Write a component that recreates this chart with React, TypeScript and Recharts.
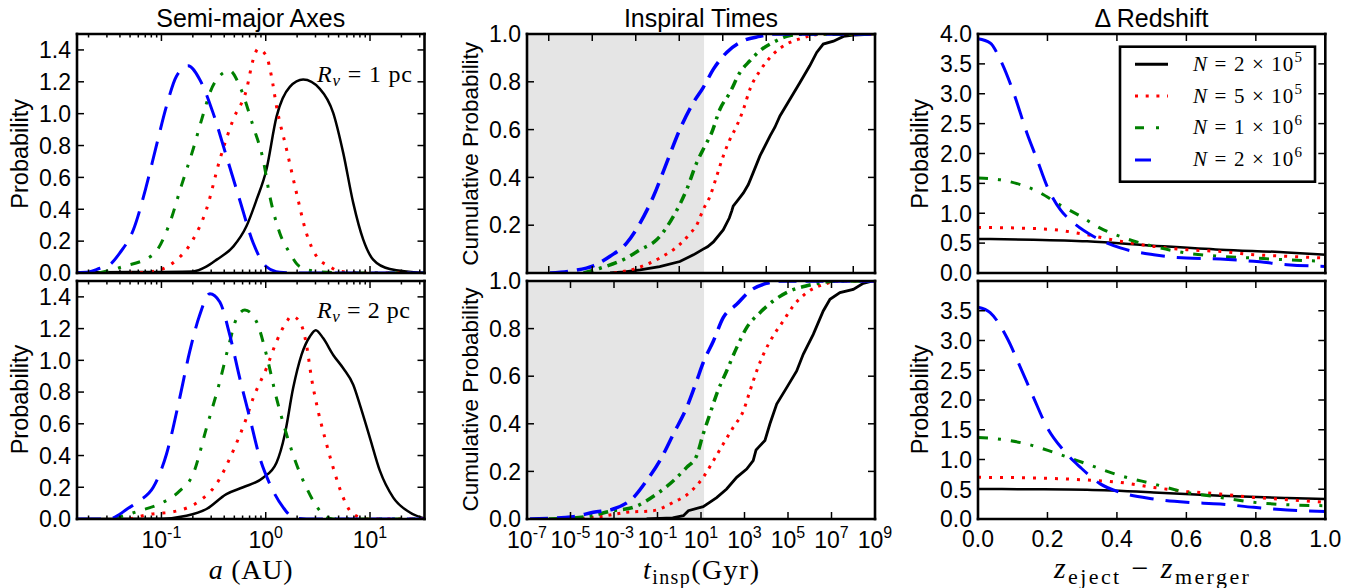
import React from 'react';
import { LineChart, Line, XAxis, YAxis, ReferenceArea } from 'recharts';

const SANS = '"Liberation Sans", Arial, Helvetica, sans-serif';
const SERIF = '"Liberation Serif", "Times New Roman", serif';

type Pt = [number, number];

// ---------- Semi-major axes (a in AU, probability) ----------
const semiXMajor = [0.1, 1, 10];
const semiXMinor = [0.02, 0.03, 0.04, 0.05, 0.06, 0.07, 0.08, 0.09, 0.2, 0.3, 0.4, 0.5, 0.6, 0.7, 0.8, 0.9, 2, 3, 4, 5, 6, 7, 8, 9, 20, 30];
const semiYTicks = [0, 0.2, 0.4, 0.6, 0.8, 1.0, 1.2, 1.4];

const semiTopBlack: Pt[] = [[0.0155, 0.005], [0.05, 0.006], [0.2, 0.01], [0.269, 0.04], [0.339, 0.084], [0.49, 0.167], [0.653, 0.293], [0.817, 0.46], [1.016, 0.65], [1.268, 0.98], [1.702, 1.168], [2.286, 1.214], [3.304, 1.156], [4.436, 1.005], [5.534, 0.754], [6.902, 0.44], [8.61, 0.209], [10.72, 0.084], [15.49, 0.025], [33.3, 0.0]];
const semiTopRed: Pt[] = [[0.049, 0.0], [0.0832, 0.01], [0.1288, 0.063], [0.2009, 0.21], [0.2704, 0.4], [0.3631, 0.712], [0.4875, 0.963], [0.6531, 1.15], [0.7586, 1.34], [0.8453, 1.407], [1.016, 1.36], [1.135, 1.235], [1.268, 1.047], [1.585, 0.775], [1.972, 0.503], [2.455, 0.25], [3.069, 0.105], [4.121, 0.04], [5.129, 0.01], [10, 0.0], [33.3, 0.0]];
const semiTopGreen: Pt[] = [[0.025, 0.0], [0.0427, 0.04], [0.0832, 0.115], [0.1202, 0.314], [0.1549, 0.545], [0.2009, 0.775], [0.2512, 0.995], [0.2911, 1.13], [0.3802, 1.25], [0.4519, 1.27], [0.5636, 1.172], [0.7586, 0.92], [0.9441, 0.712], [1.096, 0.48], [1.365, 0.25], [1.698, 0.126], [2.123, 0.04], [3.069, 0.01], [6.31, 0.0], [33.3, 0.0]];
const semiTopBlue: Pt[] = [[0.0155, 0.002], [0.02, 0.006], [0.0257, 0.03], [0.0319, 0.052], [0.0398, 0.125], [0.0537, 0.27], [0.0716, 0.545], [0.0891, 0.795], [0.1117, 1.047], [0.1393, 1.235], [0.1799, 1.3], [0.2328, 1.215], [0.3126, 1.005], [0.4198, 0.733], [0.5623, 0.46], [0.7586, 0.188], [1.012, 0.04], [1.365, 0.005], [2.0, 0.0], [33.3, 0.0]];

const semiBotBlack: Pt[] = [[0.0155, 0.0], [0.1, 0.002], [0.1738, 0.02], [0.2704, 0.063], [0.4198, 0.157], [0.6067, 0.2], [0.9441, 0.26], [1.268, 0.355], [1.524, 0.533], [1.832, 0.825], [2.203, 1.034], [2.649, 1.15], [3.02, 1.19], [3.548, 1.14], [4.436, 1.034], [5.534, 0.95], [6.902, 0.846], [8.0, 0.72], [9.977, 0.512], [12.45, 0.303], [16.71, 0.135], [24.15, 0.041], [33.3, 0.003]];
const semiBotRed: Pt[] = [[0.05, 0.0], [0.0776, 0.03], [0.1288, 0.045], [0.2328, 0.115], [0.3365, 0.22], [0.4875, 0.43], [0.6531, 0.637], [0.7586, 0.762], [1.016, 0.95], [1.268, 1.118], [1.585, 1.243], [1.766, 1.279], [2.123, 1.243], [2.455, 1.1], [2.748, 0.888], [3.184, 0.679], [3.69, 0.512], [4.436, 0.323], [5.534, 0.135], [6.412, 0.052], [7.943, 0.01], [9.333, 0.0], [33.3, 0.0]];
const semiBotGreen: Pt[] = [[0.0347, 0.0], [0.0617, 0.052], [0.0955, 0.094], [0.1496, 0.177], [0.2009, 0.282], [0.2704, 0.574], [0.3631, 0.867], [0.4519, 1.118], [0.5248, 1.264], [0.631, 1.317], [0.8166, 1.243], [1.016, 1.034], [1.268, 0.762], [1.585, 0.533], [1.972, 0.345], [2.455, 0.198], [3.304, 0.052], [4.436, 0.0], [33.3, 0.0]];
const semiBotBlue: Pt[] = [[0.0155, 0.0], [0.0316, 0.0], [0.0398, 0.03], [0.0461, 0.06], [0.0617, 0.115], [0.0832, 0.198], [0.1117, 0.408], [0.1496, 0.762], [0.1866, 1.055], [0.2328, 1.285], [0.2911, 1.42], [0.3631, 1.368], [0.4519, 1.16], [0.5636, 0.888], [0.7031, 0.637], [0.877, 0.386], [1.096, 0.22], [1.469, 0.073], [1.832, 0.01], [2.455, 0.0], [33.3, 0.0]];

// ---------- Inspiral times (t in Gyr, cumulative probability) ----------
const inspTopXTicks = [1e-6, 1e-4, 1e-2, 1, 100, 1e4, 1e6, 1e8];
const inspBotXTicks = [1e-7, 1e-5, 1e-3, 0.1, 10, 1e3, 1e5, 1e7, 1e9];
const inspYTicks = [0, 0.2, 0.4, 0.6, 0.8, 1.0];
const hubbleTime = 13.8;

const inspTopBlack: Pt[] = [[6.6e-4, 0], [3e-3, 0.005], [0.0158, 0.013], [0.126, 0.027], [1.07, 0.048], [4.47, 0.076], [12.6, 0.1], [20, 0.11], [37.2, 0.13], [105, 0.18], [200, 0.23], [260, 0.26], [302, 0.28], [550, 0.31], [891, 0.335], [1500, 0.37], [2512, 0.42], [5129, 0.49], [14791, 0.573], [25000, 0.61], [42658, 0.657], [1.23e5, 0.727], [3.55e5, 0.797], [1e6, 0.867], [2.09e6, 0.923], [4.17e6, 0.958], [1.23e7, 0.97], [3.55e7, 0.99], [1e8, 0.995], [1e9, 1.0]];
const inspTopRed: Pt[] = [[1e-3, 0], [0.011, 0.02], [0.129, 0.063], [1.07, 0.12], [3.16, 0.165], [6.3, 0.2], [12.6, 0.265], [25.7, 0.32], [52.5, 0.405], [105, 0.489], [214, 0.559], [437, 0.615], [891, 0.685], [1778, 0.769], [5129, 0.846], [20893, 0.916], [87096, 0.958], [3.55e5, 0.98], [1.41e6, 0.995], [6.3e6, 1.0], [1e9, 1.0]];
const inspTopGreen: Pt[] = [[3.98e-5, 0], [2.29e-4, 0.02], [3.8e-3, 0.063], [0.0158, 0.097], [0.0912, 0.139], [0.537, 0.237], [2.19, 0.349], [6.31, 0.461], [15.1, 0.531], [30.9, 0.587], [74.1, 0.685], [214, 0.755], [617, 0.839], [1778, 0.888], [5129, 0.93], [20893, 0.965], [87096, 0.99], [6.3e5, 1.0], [1e9, 1.0]];
const inspTopBlue: Pt[] = [[1.15e-6, 0], [1.35e-5, 0.01], [1.12e-4, 0.03], [6.6e-4, 0.07], [3.8e-3, 0.125], [0.0158, 0.209], [0.0646, 0.32], [0.263, 0.461], [1.07, 0.601], [4.47, 0.713], [12.6, 0.776], [37.2, 0.853], [151, 0.923], [891, 0.972], [5129, 0.99], [20893, 1.0], [1e9, 1.0]];

const inspBotBlack: Pt[] = [[0.0316, 0], [0.5, 0.005], [1.55, 0.014], [2.63, 0.035], [12.6, 0.052], [25, 0.07], [52.5, 0.09], [151, 0.126], [437, 0.175], [1259, 0.21], [2512, 0.245], [3400, 0.29], [4266, 0.3], [8710, 0.33], [14791, 0.4], [30200, 0.483], [87096, 0.552], [2.51e5, 0.622], [5.01e5, 0.692], [1.45e6, 0.776], [4.17e6, 0.874], [8.51e6, 0.923], [2.45e7, 0.951], [1e8, 0.965], [2.88e8, 0.99], [7.9e8, 1.0], [1e9, 1.0]];
const inspBotRed: Pt[] = [[1.26e-5, 0], [2.29e-4, 0.01], [3.8e-3, 0.028], [0.0646, 0.035], [0.537, 0.07], [3.09, 0.112], [12.6, 0.175], [37.2, 0.245], [105, 0.315], [302, 0.385], [891, 0.455], [1778, 0.538], [3631, 0.622], [7413, 0.692], [20893, 0.769], [60256, 0.832], [1.74e5, 0.895], [7.24e5, 0.951], [4.17e6, 0.985], [2.51e7, 1.0], [1e9, 1.0]];
const inspBotGreen: Pt[] = [[1e-6, 0], [5.5e-5, 0.01], [9.3e-4, 0.035], [7.76e-3, 0.049], [0.0912, 0.105], [0.537, 0.161], [2.19, 0.217], [6.31, 0.266], [12.6, 0.357], [25.7, 0.441], [52.5, 0.525], [151, 0.622], [437, 0.72], [1259, 0.804], [5129, 0.867], [20893, 0.916], [1.23e5, 0.958], [7.24e5, 0.98], [2.51e7, 1.0], [1e9, 1.0]];
const inspBotBlue: Pt[] = [[1.38e-7, 0], [1.35e-5, 0.01], [1.12e-4, 0.028], [9.3e-4, 0.042], [7.76e-3, 0.09], [0.0316, 0.161], [0.129, 0.245], [0.537, 0.357], [2.19, 0.468], [6.31, 0.58], [12.6, 0.657], [37.2, 0.748], [105, 0.846], [437, 0.902], [1778, 0.958], [1e4, 0.99], [5e4, 1.0], [1e9, 1.0]];

// ---------- Delta redshift ----------
const zXTicks = [0, 0.2, 0.4, 0.6, 0.8, 1.0];
const zYTicks = [0, 0.5, 1.0, 1.5, 2.0, 2.5, 3.0, 3.5, 4.0];

const zTopBlack: Pt[] = [[0, 0.57], [0.16, 0.557], [0.314, 0.53], [0.506, 0.457], [0.698, 0.39], [0.89, 0.345], [1.0, 0.306]];
const zTopRed: Pt[] = [[0, 0.763], [0.112, 0.753], [0.218, 0.725], [0.314, 0.64], [0.41, 0.53], [0.506, 0.445], [0.6, 0.39], [0.698, 0.36], [0.794, 0.306], [0.89, 0.28], [1.0, 0.25]];
const zTopGreen: Pt[] = [[0, 1.59], [0.064, 1.56], [0.122, 1.48], [0.18, 1.34], [0.227, 1.17], [0.295, 0.95], [0.352, 0.75], [0.41, 0.61], [0.506, 0.445], [0.6, 0.335], [0.698, 0.28], [0.794, 0.25], [0.89, 0.22], [1.0, 0.195]];
const zTopBlue: Pt[] = [[0, 3.92], [0.035, 3.85], [0.064, 3.57], [0.103, 3.01], [0.141, 2.34], [0.17, 1.9], [0.199, 1.45], [0.237, 1.06], [0.275, 0.84], [0.333, 0.61], [0.41, 0.42], [0.506, 0.306], [0.6, 0.25], [0.698, 0.235], [0.794, 0.195], [0.89, 0.14], [1.0, 0.11]];

const zBotBlack: Pt[] = [[0, 0.504], [0.16, 0.5], [0.314, 0.49], [0.506, 0.447], [0.698, 0.39], [0.89, 0.353], [1.0, 0.336]];
const zBotRed: Pt[] = [[0, 0.7], [0.16, 0.69], [0.314, 0.655], [0.41, 0.615], [0.506, 0.53], [0.6, 0.464], [0.698, 0.42], [0.794, 0.363], [0.89, 0.324], [1.0, 0.28]];
const zBotGreen: Pt[] = [[0, 1.37], [0.064, 1.34], [0.141, 1.26], [0.218, 1.12], [0.314, 0.924], [0.41, 0.728], [0.506, 0.588], [0.6, 0.447], [0.698, 0.363], [0.794, 0.28], [0.89, 0.24], [1.0, 0.224]];
const zBotBlue: Pt[] = [[0, 3.56], [0.035, 3.47], [0.083, 3.05], [0.122, 2.55], [0.16, 2.04], [0.199, 1.54], [0.247, 1.15], [0.295, 0.867], [0.352, 0.59], [0.41, 0.447], [0.506, 0.336], [0.6, 0.28], [0.698, 0.252], [0.794, 0.196], [0.89, 0.151], [1.0, 0.128]];

const legendLabels = [
  { key: 'black', coef: '2', exp: '5' },
  { key: 'red', coef: '5', exp: '5' },
  { key: 'green', coef: '1', exp: '6' },
  { key: 'blue', coef: '2', exp: '6' },
];

// ---------- styles ----------
const COLORS: Record<string, string> = { black: '#000000', red: '#ff0000', green: '#008000', blue: '#0000ff' };
const styleSide: Record<string, any> = {
  black: { strokeWidth: 2.5 },
  red: { strokeWidth: 3, strokeDasharray: '3 8' },
  green: { strokeWidth: 3, strokeDasharray: '10 10 3 10' },
  blue: { strokeWidth: 3, strokeDasharray: '24 12' },
};
const styleMid: Record<string, any> = {
  black: { strokeWidth: 2.8 },
  red: { strokeWidth: 3, strokeDasharray: '3 6' },
  green: { strokeWidth: 3.5, strokeDasharray: '10 6 3 6' },
  blue: { strokeWidth: 3.5, strokeDasharray: '18 9' },
};

const PADL = 75, PADR = 40, PADT = 12, PADB = 45;
const AX = 1; // axis thickness in layout (must be > 0 for Recharts to draw it)
const FRAME = { stroke: '#000', strokeWidth: 2.6, strokeLinecap: 'square' as const };
const TICK_MAJOR = 7;
const TICK_MINOR = 3.5;

type Side = 'bottom' | 'top' | 'left' | 'right';

function makeTick(side: Side, majors: number[], showLabels: boolean, fmt: 'pow' | 'fixed1', hide: number[] = []) {
  return (props: any) => {
    const { x, y, payload } = props;
    const v: number = payload.value;
    const isMajor = majors.includes(v);
    const len = isMajor ? TICK_MAJOR : TICK_MINOR;
    let line: React.ReactNode = null;
    if (side === 'bottom') line = <line x1={x} y1={y} x2={x} y2={y - len} stroke="#000" strokeWidth={1.5} />;
    if (side === 'top') line = <line x1={x} y1={y} x2={x} y2={y + len} stroke="#000" strokeWidth={1.5} />;
    if (side === 'left') line = <line x1={x} y1={y} x2={x + len} y2={y} stroke="#000" strokeWidth={1.5} />;
    if (side === 'right') line = <line x1={x} y1={y} x2={x - len} y2={y} stroke="#000" strokeWidth={1.5} />;
    let label: React.ReactNode = null;
    if (showLabels && isMajor && !hide.includes(v)) {
      if (side === 'bottom') {
        if (fmt === 'pow') {
          const e = Math.round(Math.log10(v));
          label = (
            <text x={x} y={y + 28.5} textAnchor="middle" fontFamily={SANS} fontSize={23} fill="#000">
              <tspan>10</tspan>
              <tspan dy={-10} fontSize={16}>{String(e)}</tspan>
            </text>
          );
        } else {
          label = (
            <text x={x} y={y + 28.5} textAnchor="middle" fontFamily={SANS} fontSize={23} fill="#000">{v.toFixed(1)}</text>
          );
        }
      } else if (side === 'left') {
        label = (
          <text x={x - 6} y={y} dy="0.36em" textAnchor="end" fontFamily={SANS} fontSize={23} fill="#000">{v.toFixed(1)}</text>
        );
      }
    }
    return (
      <g>
        {line}
        {label}
      </g>
    );
  };
}

interface SeriesDef { key: string; data: Pt[]; curve: 'monotone' | 'linear'; }
interface PanelProps {
  x0: number; y0: number; w: number; h: number;
  xScale: 'log' | 'linear';
  xDomain: [number, number];
  xMajor: number[];
  xMinor: number[];
  xFmt: 'pow' | 'fixed1';
  showXLabels: boolean;
  yDomain: [number, number];
  yTicks: number[];
  yHide?: number[];
  series: SeriesDef[];
  styles: Record<string, any>;
  shade?: [number, number];
}

function Panel(p: PanelProps) {
  const W = p.w + PADL + PADR;
  const H = p.h + PADT + PADB;
  const xAll = [...p.xMajor, ...p.xMinor];
  return (
    <div style={{ position: 'absolute', left: p.x0 - PADL, top: p.y0 - PADT, width: W, height: H }}>
      <LineChart width={W} height={H} margin={{ top: PADT - AX, right: PADR - AX, bottom: PADB - AX, left: PADL - AX }}>
        {p.shade ? (
          <ReferenceArea xAxisId="b" yAxisId="l" x1={p.shade[0]} x2={p.shade[1]} y1={p.yDomain[0]} y2={p.yDomain[1]}
            fill="#e5e5e5" fillOpacity={1} stroke="none" ifOverflow="hidden" />
        ) : null}
        {p.series.map((s) => (
          <Line key={s.key} xAxisId="b" yAxisId="l" data={s.data.map(([x, y]) => ({ x, y }))} dataKey="y"
            type={s.curve} dot={false} activeDot={false} isAnimationActive={false}
            stroke={COLORS[s.key]} {...p.styles[s.key]} />
        ))}
        <XAxis xAxisId="b" dataKey="x" type="number" scale={p.xScale} domain={p.xDomain} allowDataOverflow
          ticks={xAll} interval={0} minTickGap={0} height={AX} tickSize={0} tickMargin={0} tickLine={false}
          axisLine={FRAME} tick={makeTick('bottom', p.xMajor, p.showXLabels, p.xFmt)} />
        <XAxis xAxisId="t" orientation="top" dataKey="x" type="number" scale={p.xScale} domain={p.xDomain} allowDataOverflow
          ticks={xAll} interval={0} minTickGap={0} height={AX} tickSize={0} tickMargin={0} tickLine={false}
          axisLine={FRAME} tick={makeTick('top', p.xMajor, false, p.xFmt)} />
        <YAxis yAxisId="l" type="number" domain={p.yDomain} allowDataOverflow ticks={p.yTicks} interval={0}
          width={AX} tickSize={0} tickMargin={0} tickLine={false} axisLine={FRAME}
          tick={makeTick('left', p.yTicks, true, 'fixed1', p.yHide || [])} />
        <YAxis yAxisId="r" orientation="right" type="number" domain={p.yDomain} allowDataOverflow ticks={p.yTicks} interval={0}
          width={AX} tickSize={0} tickMargin={0} tickLine={false} axisLine={FRAME}
          tick={makeTick('right', p.yTicks, false, 'fixed1')} />
      </LineChart>
    </div>
  );
}

const COLS = [
  { x0: 77, w: 347.5 },
  { x0: 527, w: 348 },
  { x0: 977.7, w: 347.3 },
];
const ROWS = [
  { y0: 34.3, h: 239 },
  { y0: 280.5, h: 238 },
];

function LegendSample({ k, y }: { k: string; y: number }) {
  const dash: Record<string, string | undefined> = { black: undefined, red: '3 7.7', green: '9 12 3 12', blue: '16 17' };
  return <line x1={1135} y1={y} x2={1168} y2={y} stroke={COLORS[k]} strokeWidth={3} strokeDasharray={dash[k]} />;
}

export default function App() {
  const semiSeries = (b: Pt[], r: Pt[], g: Pt[], bl: Pt[]): SeriesDef[] => [
    { key: 'black', data: b, curve: 'monotone' },
    { key: 'red', data: r, curve: 'monotone' },
    { key: 'green', data: g, curve: 'monotone' },
    { key: 'blue', data: bl, curve: 'monotone' },
  ];
  const inspSeries = (b: Pt[], r: Pt[], g: Pt[], bl: Pt[]): SeriesDef[] => [
    { key: 'black', data: b, curve: 'linear' },
    { key: 'red', data: r, curve: 'monotone' },
    { key: 'green', data: g, curve: 'monotone' },
    { key: 'blue', data: bl, curve: 'monotone' },
  ];
  const legendRows = [64.3, 96, 127.7, 160];
  const legendBase = [71, 102.7, 134.4, 166.1];
  return (
    <div style={{ position: 'absolute', left: 0, top: 0, width: 1364, height: 588, background: '#fff', overflow: 'hidden' }}>
      {/* Semi-major axes */}
      <Panel x0={COLS[0].x0} w={COLS[0].w} y0={ROWS[0].y0} h={ROWS[0].h} xScale="log" xDomain={[0.0155, 33.3]}
        xMajor={semiXMajor} xMinor={semiXMinor} xFmt="pow" showXLabels={false} yDomain={[0, 1.5]} yTicks={semiYTicks}
        series={semiSeries(semiTopBlack, semiTopRed, semiTopGreen, semiTopBlue)} styles={styleSide} />
      <Panel x0={COLS[0].x0} w={COLS[0].w} y0={ROWS[1].y0} h={ROWS[1].h} xScale="log" xDomain={[0.0155, 33.3]}
        xMajor={semiXMajor} xMinor={semiXMinor} xFmt="pow" showXLabels={true} yDomain={[0, 1.5]} yTicks={semiYTicks}
        series={semiSeries(semiBotBlack, semiBotRed, semiBotGreen, semiBotBlue)} styles={styleSide} />
      {/* Inspiral times */}
      <Panel x0={COLS[1].x0} w={COLS[1].w} y0={ROWS[0].y0} h={ROWS[0].h} xScale="log" xDomain={[1e-7, 1e9]}
        xMajor={inspTopXTicks} xMinor={[]} xFmt="pow" showXLabels={false} yDomain={[0, 1]} yTicks={inspYTicks} yHide={[0]}
        series={inspSeries(inspTopBlack, inspTopRed, inspTopGreen, inspTopBlue)} styles={styleMid} shade={[1e-7, hubbleTime]} />
      <Panel x0={COLS[1].x0} w={COLS[1].w} y0={ROWS[1].y0} h={ROWS[1].h} xScale="log" xDomain={[1e-7, 1e9]}
        xMajor={inspBotXTicks} xMinor={[]} xFmt="pow" showXLabels={true} yDomain={[0, 1]} yTicks={inspYTicks}
        series={inspSeries(inspBotBlack, inspBotRed, inspBotGreen, inspBotBlue)} styles={styleMid} shade={[1e-7, hubbleTime]} />
      {/* Delta redshift */}
      <Panel x0={COLS[2].x0} w={COLS[2].w} y0={ROWS[0].y0} h={ROWS[0].h} xScale="linear" xDomain={[0, 1]}
        xMajor={zXTicks} xMinor={[]} xFmt="fixed1" showXLabels={false} yDomain={[0, 4]} yTicks={zYTicks}
        series={semiSeries(zTopBlack, zTopRed, zTopGreen, zTopBlue)} styles={styleSide} />
      <Panel x0={COLS[2].x0} w={COLS[2].w} y0={ROWS[1].y0} h={ROWS[1].h} xScale="linear" xDomain={[0, 1]}
        xMajor={zXTicks} xMinor={[]} xFmt="fixed1" showXLabels={true} yDomain={[0, 4]} yTicks={zYTicks} yHide={[4]}
        series={semiSeries(zBotBlack, zBotRed, zBotGreen, zBotBlue)} styles={styleSide} />

      <svg width={1364} height={588} style={{ position: 'absolute', left: 0, top: 0, pointerEvents: 'none' }}>
        {/* titles */}
        <text x={250.7} y={27} textAnchor="middle" fontFamily={SANS} fontSize={25} fill="#000">Semi-major Axes</text>
        <text x={701} y={27} textAnchor="middle" fontFamily={SANS} fontSize={25} fill="#000">Inspiral Times</text>
        <text x={1151.4} y={27} textAnchor="middle" fontFamily={SANS} fontSize={25} fill="#000">Δ Redshift</text>

        {/* y labels */}
        <text transform="translate(21.7,153.8) rotate(-90)" dy="0.26em" textAnchor="middle" fontFamily={SANS} fontSize={23.5} fill="#000">Probability</text>
        <text transform="translate(21.7,399.5) rotate(-90)" dy="0.26em" textAnchor="middle" fontFamily={SANS} fontSize={23.5} fill="#000">Probability</text>
        <text transform="translate(471.7,153.8) rotate(-90)" dy="0.26em" textAnchor="middle" fontFamily={SANS} fontSize={22.5} fill="#000">Cumulative Probability</text>
        <text transform="translate(471.7,399.5) rotate(-90)" dy="0.26em" textAnchor="middle" fontFamily={SANS} fontSize={22.5} fill="#000">Cumulative Probability</text>
        <text transform="translate(921.7,153.8) rotate(-90)" dy="0.26em" textAnchor="middle" fontFamily={SANS} fontSize={23.5} fill="#000">Probability</text>
        <text transform="translate(921.7,399.5) rotate(-90)" dy="0.26em" textAnchor="middle" fontFamily={SANS} fontSize={23.5} fill="#000">Probability</text>

        {/* x labels */}
        <text x={250.7} y={579} textAnchor="middle" fontFamily={SERIF} fontSize={28} fill="#000" textLength={84} lengthAdjust="spacing">
          <tspan fontStyle="italic">a</tspan><tspan> (AU)</tspan>
        </text>
        <text x={701} y={579} textAnchor="middle" fontFamily={SERIF} fontSize={28} fill="#000" textLength={116} lengthAdjust="spacing">
          <tspan fontStyle="italic">t</tspan><tspan fontSize={20} dy={5}>insp</tspan><tspan dy={-5}>(Gyr)</tspan>
        </text>
        <text x={1151.4} y={578} textAnchor="middle" fontFamily={SERIF} fontSize={30} fill="#000" textLength={195} lengthAdjust="spacing">
          <tspan fontStyle="italic">z</tspan><tspan fontSize={22} dy={6}>eject</tspan><tspan dy={-6}> − </tspan>
          <tspan fontStyle="italic">z</tspan><tspan fontSize={22} dy={6}>merger</tspan>
        </text>

        {/* annotations */}
        <text x={317} y={82} fontFamily={SERIF} fontSize={24} fill="#000" textLength={95} lengthAdjust="spacing">
          <tspan fontStyle="italic">R</tspan><tspan fontStyle="italic" fontSize={17} dy={4}>v</tspan><tspan dy={-4}> = 1 pc</tspan>
        </text>
        <text x={317} y={318} fontFamily={SERIF} fontSize={24} fill="#000" textLength={93} lengthAdjust="spacing">
          <tspan fontStyle="italic">R</tspan><tspan fontStyle="italic" fontSize={17} dy={4}>v</tspan><tspan dy={-4}> = 2 pc</tspan>
        </text>

        {/* legend */}
        <rect x={1120} y={46.7} width={195} height={135} fill="#fff" stroke="#000" strokeWidth={2.6} />
        {legendLabels.map((l, i) => (
          <g key={l.key}>
            <LegendSample k={l.key} y={legendRows[i]} />
            <text x={1193} y={legendBase[i]} fontFamily={SERIF} fontSize={21} fill="#000" textLength={109} lengthAdjust="spacing">
              <tspan fontStyle="italic">N</tspan><tspan>{` = ${l.coef} × 10`}</tspan><tspan dy={-9} fontSize={15}>{l.exp}</tspan>
            </text>
          </g>
        ))}
      </svg>
    </div>
  );
}
